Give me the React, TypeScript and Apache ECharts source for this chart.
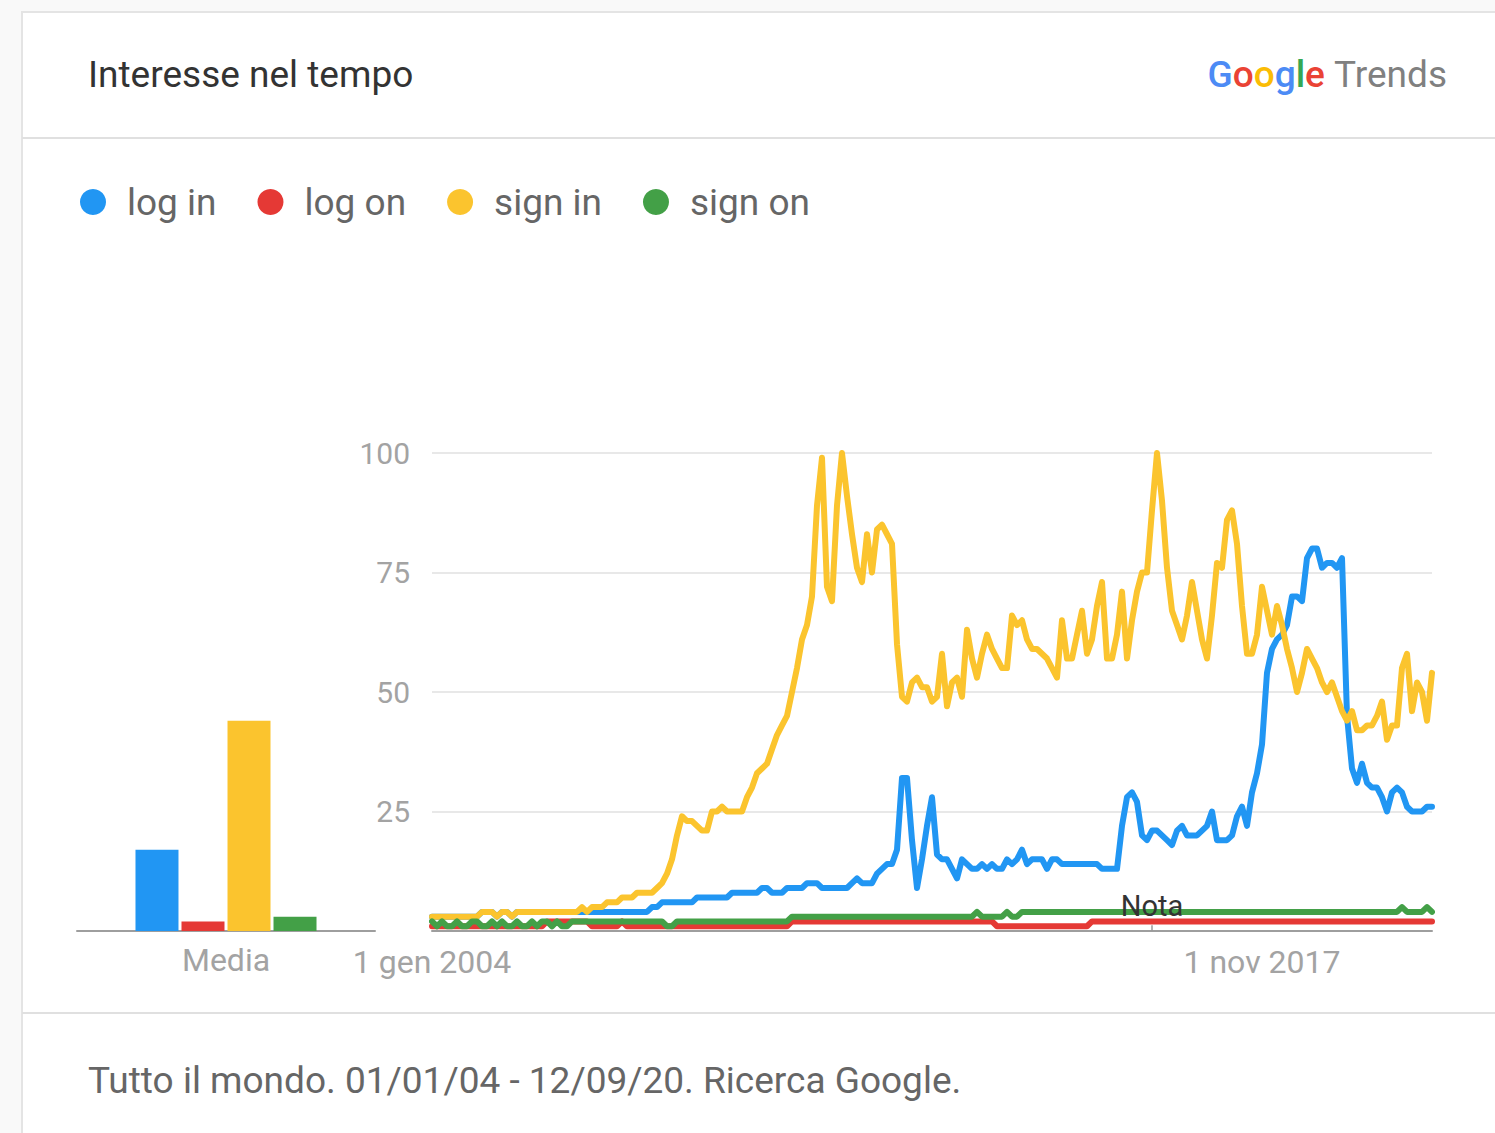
import React, { useEffect, useRef } from "react";
import * as echarts from "echarts";

// ---- Data ----
const SERIES_NAMES = ["log in", "log on", "sign in", "sign on"];
const SERIES_COLORS = ["#2196F3", "#E53935", "#FBC42E", "#43A047"];

// Averages (bar "Media")
const AVERAGES = [17, 2, 44, 3];
const BAR_CATEGORY = ["Media"];

// Monthly categories Jan 2004 .. Sep 2020 (201 months)
const START_YEAR = 2004;
const MONTH_COUNT = 201;
const MONTHS: string[] = [];
for (let k = 0; k < MONTH_COUNT; k++) {
  const y = START_YEAR + Math.floor(k / 12);
  const m = (k % 12) + 1;
  MONTHS.push(`${y}-${m < 10 ? "0" + m : m}`);
}

const TICK_INDICES = [0, 166];
const TICK_LABELS = ["1 gen 2004", "1 nov 2017"];
const NOTE_INDEX = 144;
const NOTE_LABEL = "Nota";

const LOG_IN = [
  3, 3, 3, 3, 3, 3, 3, 3, 3, 3,
  4, 4, 4, 3, 4, 4, 3, 4, 4, 4,
  4, 4, 4, 4, 4, 4, 4, 4, 4, 4,
  4, 4, 4, 4, 4, 4, 4, 4, 4, 4,
  4, 4, 4, 4, 5, 5, 6, 6, 6, 6,
  6, 6, 6, 7, 7, 7, 7, 7, 7, 7,
  8, 8, 8, 8, 8, 8, 9, 9, 8, 8,
  8, 9, 9, 9, 9, 10, 10, 10, 9, 9,
  9, 9, 9, 9, 10, 11, 10, 10, 10, 12,
  13, 14, 14, 17, 32, 32, 19, 9, 15, 22,
  28, 16, 15, 15, 13, 11, 15, 14, 13, 13,
  14, 13, 14, 13, 13, 15, 14, 15, 17, 14,
  15, 15, 15, 13, 15, 15, 14, 14, 14, 14,
  14, 14, 14, 14, 13, 13, 13, 13, 22, 28,
  29, 27, 20, 19, 21, 21, 20, 19, 18, 21,
  22, 20, 20, 20, 21, 22, 25, 19, 19, 19,
  20, 24, 26, 22, 29, 33, 39, 54, 59, 61,
  62, 64, 70, 70, 69, 78, 80, 80, 76, 77,
  77, 76, 78, 45, 34, 31, 35, 31, 30, 30,
  28, 25, 29, 30, 29, 26, 25, 25, 25, 26,
  26,
];

const LOG_ON = [
  1, 1, 1, 1, 1, 1, 1, 1, 1, 1,
  1, 1, 1, 1, 1, 1, 1, 1, 1, 1,
  1, 1, 1, 2, 2, 2, 2, 2, 2, 2,
  2, 2, 1, 1, 1, 1, 1, 1, 2, 1,
  1, 1, 1, 1, 1, 1, 1, 1, 1, 1,
  1, 1, 1, 1, 1, 1, 1, 1, 1, 1,
  1, 1, 1, 1, 1, 1, 1, 1, 1, 1,
  1, 1, 2, 2, 2, 2, 2, 2, 2, 2,
  2, 2, 2, 2, 2, 2, 2, 2, 2, 2,
  2, 2, 2, 2, 2, 2, 2, 2, 2, 2,
  2, 2, 2, 2, 2, 2, 2, 2, 2, 2,
  2, 2, 2, 1, 1, 1, 1, 1, 1, 1,
  1, 1, 1, 1, 1, 1, 1, 1, 1, 1,
  1, 1, 2, 2, 2, 2, 2, 2, 2, 2,
  2, 2, 2, 2, 2, 2, 2, 2, 2, 2,
  2, 2, 2, 2, 2, 2, 2, 2, 2, 2,
  2, 2, 2, 2, 2, 2, 2, 2, 2, 2,
  2, 2, 2, 2, 2, 2, 2, 2, 2, 2,
  2, 2, 2, 2, 2, 2, 2, 2, 2, 2,
  2, 2, 2, 2, 2, 2, 2, 2, 2, 2,
  2,
];

const SIGN_IN = [
  3, 3, 3, 3, 3, 3, 3, 3, 3, 3,
  4, 4, 4, 3, 4, 4, 3, 4, 4, 4,
  4, 4, 4, 4, 4, 4, 4, 4, 4, 4,
  5, 4, 5, 5, 5, 6, 6, 6, 7, 7,
  7, 8, 8, 8, 8, 9, 10, 12, 15, 20,
  24, 23, 23, 22, 21, 21, 25, 25, 26, 25,
  25, 25, 25, 28, 30, 33, 34, 35, 38, 41,
  43, 45, 50, 55, 61, 64, 70, 89, 99, 72,
  69, 89, 100, 91, 83, 76, 73, 83, 75, 84,
  85, 83, 81, 60, 49, 48, 52, 53, 51, 51,
  48, 49, 58, 47, 52, 53, 49, 63, 57, 53,
  58, 62, 59, 57, 55, 55, 66, 64, 65, 61,
  59, 59, 58, 57, 55, 53, 65, 57, 57, 62,
  67, 58, 61, 68, 73, 57, 57, 62, 71, 57,
  65, 71, 75, 75, 88, 100, 90, 76, 67, 64,
  61, 66, 73, 67, 61, 57, 66, 77, 76, 86,
  88, 81, 68, 58, 58, 62, 72, 67, 62, 68,
  64, 59, 55, 50, 54, 59, 57, 55, 52, 50,
  52, 49, 46, 44, 46, 42, 42, 43, 43, 45,
  48, 40, 43, 43, 55, 58, 46, 52, 50, 44,
  54,
];

const SIGN_ON = [
  2, 1, 2, 1, 1, 2, 1, 1, 2, 2,
  1, 1, 2, 1, 2, 1, 1, 2, 1, 1,
  2, 1, 2, 2, 1, 2, 1, 1, 2, 2,
  2, 2, 2, 2, 2, 2, 2, 2, 2, 2,
  2, 2, 2, 2, 2, 2, 2, 1, 1, 2,
  2, 2, 2, 2, 2, 2, 2, 2, 2, 2,
  2, 2, 2, 2, 2, 2, 2, 2, 2, 2,
  2, 2, 3, 3, 3, 3, 3, 3, 3, 3,
  3, 3, 3, 3, 3, 3, 3, 3, 3, 3,
  3, 3, 3, 3, 3, 3, 3, 3, 3, 3,
  3, 3, 3, 3, 3, 3, 3, 3, 3, 4,
  3, 3, 3, 3, 3, 4, 3, 3, 4, 4,
  4, 4, 4, 4, 4, 4, 4, 4, 4, 4,
  4, 4, 4, 4, 4, 4, 4, 4, 4, 4,
  4, 4, 4, 4, 4, 4, 4, 4, 4, 4,
  4, 4, 4, 4, 4, 4, 4, 4, 4, 4,
  4, 4, 4, 4, 4, 4, 4, 4, 4, 4,
  4, 4, 4, 4, 4, 4, 4, 4, 4, 4,
  4, 4, 4, 4, 4, 4, 4, 4, 4, 4,
  4, 4, 4, 4, 5, 4, 4, 4, 4, 5,
  4,
];

const LINE_DATA = [LOG_IN, LOG_ON, SIGN_IN, SIGN_ON];

const TITLE = "Interesse nel tempo";
const FOOTER = "Tutto il mondo. 01/01/04 - 12/09/20. Ricerca Google.";

const FONT = "Roboto, 'Noto Sans', Arial, sans-serif";

export default function App() {
  const ref = useRef<HTMLDivElement>(null);

  useEffect(() => {
    document.body.style.margin = "0";
    document.body.style.overflow = "hidden";
    if (!ref.current) return;
    const chart = echarts.init(ref.current, undefined, { renderer: "svg" });

    const grayLabel = "#a3a3a3";

    const barSeries = SERIES_NAMES.map((name, i) => ({
      name,
      type: "bar",
      xAxisIndex: 0,
      yAxisIndex: 0,
      data: [AVERAGES[i]],
      barWidth: 43,
      barGap: "7%",
      itemStyle: { color: SERIES_COLORS[i] },
      z: 2,
    }));

    const lineSeries = SERIES_NAMES.map((name, i) => {
      const s: any = {
        name,
        type: "line",
        xAxisIndex: 1,
        yAxisIndex: 1,
        data: LINE_DATA[i],
        symbol: "none",
        lineStyle: { width: 6, color: SERIES_COLORS[i], join: "round", cap: "round" },
        itemStyle: { color: SERIES_COLORS[i] },
        z: 3 + i,
      };
      if (i === 3) {
        s.markPoint = {
          silent: true,
          symbol: "circle",
          symbolSize: 1,
          itemStyle: { color: "rgba(0,0,0,0)" },
          label: {
            show: true,
            position: "inside",
            formatter: NOTE_LABEL,
            fontSize: 29,
            fontFamily: FONT,
            color: "#333333",
          },
          data: [{ coord: [MONTHS[NOTE_INDEX], 5.3] }],
          z: 10,
        };
        s.markLine = {
          silent: true,
          symbol: "none",
          label: { show: false },
          lineStyle: { color: "#999999", width: 1.5, type: "solid" },
          data: [[{ coord: [MONTHS[NOTE_INDEX], 0] }, { coord: [MONTHS[NOTE_INDEX], 1.2] }]],
        };
      }
      return s;
    });

    const option: any = {
      animation: false,
      backgroundColor: "#f9f9f9",
      color: SERIES_COLORS,
      textStyle: { fontFamily: FONT },
      legend: {
        data: SERIES_NAMES,
        left: 80,
        top: 182,
        padding: 0,
        icon: "circle",
        itemWidth: 26,
        itemHeight: 26,
        itemGap: 41,
        textStyle: {
          fontSize: 37,
          color: "#666666",
          fontFamily: FONT,
          padding: [0, 0, 0, 16],
          lineHeight: 40,
        },
      },
      grid: [
        { left: 77, right: 1495 - 375, top: 453, bottom: 1133 - 931 },
        { left: 432, right: 1495 - 1432, top: 453, bottom: 1133 - 931 },
      ],
      xAxis: [
        {
          type: "category",
          gridIndex: 0,
          data: BAR_CATEGORY,
          axisLine: { show: true, lineStyle: { color: "#9e9e9e", width: 2 } },
          axisTick: { show: false },
          axisLabel: { fontSize: 32, color: grayLabel, margin: 13, fontFamily: FONT },
        },
        {
          type: "category",
          gridIndex: 1,
          data: MONTHS,
          boundaryGap: false,
          axisLine: { show: true, lineStyle: { color: "#9e9e9e", width: 2 } },
          axisTick: { show: false },
          axisLabel: {
            fontSize: 32,
            color: grayLabel,
            margin: 15,
            fontFamily: FONT,
            interval: (idx: number) => TICK_INDICES.indexOf(idx) >= 0,
            formatter: (_v: string, idx: number) => {
              const k = TICK_INDICES.indexOf(idx);
              return k >= 0 ? TICK_LABELS[k] : "";
            },
          },
          splitLine: { show: false },
        },
      ],
      yAxis: [
        {
          type: "value",
          gridIndex: 0,
          min: 0,
          max: 100,
          interval: 25,
          show: false,
          splitLine: { show: false },
        },
        {
          type: "value",
          gridIndex: 1,
          min: 0,
          max: 100,
          interval: 25,
          axisLine: { show: false },
          axisTick: { show: false },
          axisLabel: {
            fontSize: 30,
            color: grayLabel,
            margin: 22,
            fontFamily: FONT,
            formatter: (v: number) => (v === 0 ? "" : String(v)),
          },
          splitLine: { show: true, lineStyle: { color: "#e0e0e0", width: 1.5 } },
        },
      ],
      graphic: [
        {
          type: "rect",
          z: -10,
          silent: true,
          shape: { x: 22, y: 12, width: 1520, height: 1160 },
          style: { fill: "#ffffff", stroke: "#e4e4e4", lineWidth: 2 },
        },
        {
          type: "line",
          z: -9,
          silent: true,
          shape: { x1: 22, y1: 138, x2: 1495, y2: 138 },
          style: { stroke: "#e0e0e0", lineWidth: 2 },
        },
        {
          type: "line",
          z: -9,
          silent: true,
          shape: { x1: 22, y1: 1013, x2: 1495, y2: 1013 },
          style: { stroke: "#e0e0e0", lineWidth: 2 },
        },
        {
          type: "text",
          silent: true,
          style: {
            text: TITLE,
            x: 88,
            y: 74,
            fill: "#333333",
            fontSize: 37,
            fontFamily: FONT,
            verticalAlign: "middle",
            align: "left",
          },
        },
        {
          type: "text",
          silent: true,
          style: {
            text: "{b|G}{r|o}{y|o}{b|g}{g|l}{r|e} {t|Trends}",
            x: 1447,
            y: 74,
            align: "right",
            verticalAlign: "middle",
            fontSize: 37,
            fontFamily: FONT,
            rich: {
              b: { fill: "#4C8BF5", fontSize: 37, fontWeight: 500, fontFamily: FONT },
              r: { fill: "#EA4335", fontSize: 37, fontWeight: 500, fontFamily: FONT },
              y: { fill: "#FBBC05", fontSize: 37, fontWeight: 500, fontFamily: FONT },
              g: { fill: "#34A853", fontSize: 37, fontWeight: 500, fontFamily: FONT },
              t: { fill: "#808080", fontSize: 37, fontFamily: FONT },
            },
          },
        },
        {
          type: "text",
          silent: true,
          style: {
            text: FOOTER,
            x: 88,
            y: 1080,
            fill: "#666666",
            fontSize: 37,
            fontFamily: FONT,
            verticalAlign: "middle",
            align: "left",
          },
        },
      ],
      series: [...barSeries, ...lineSeries],
    };

    chart.setOption(option);
    return () => {
      chart.dispose();
    };
  }, []);

  return (
    <div
      ref={ref}
      style={{ position: "absolute", left: 0, top: 0, width: 1495, height: 1133 }}
    />
  );
}
